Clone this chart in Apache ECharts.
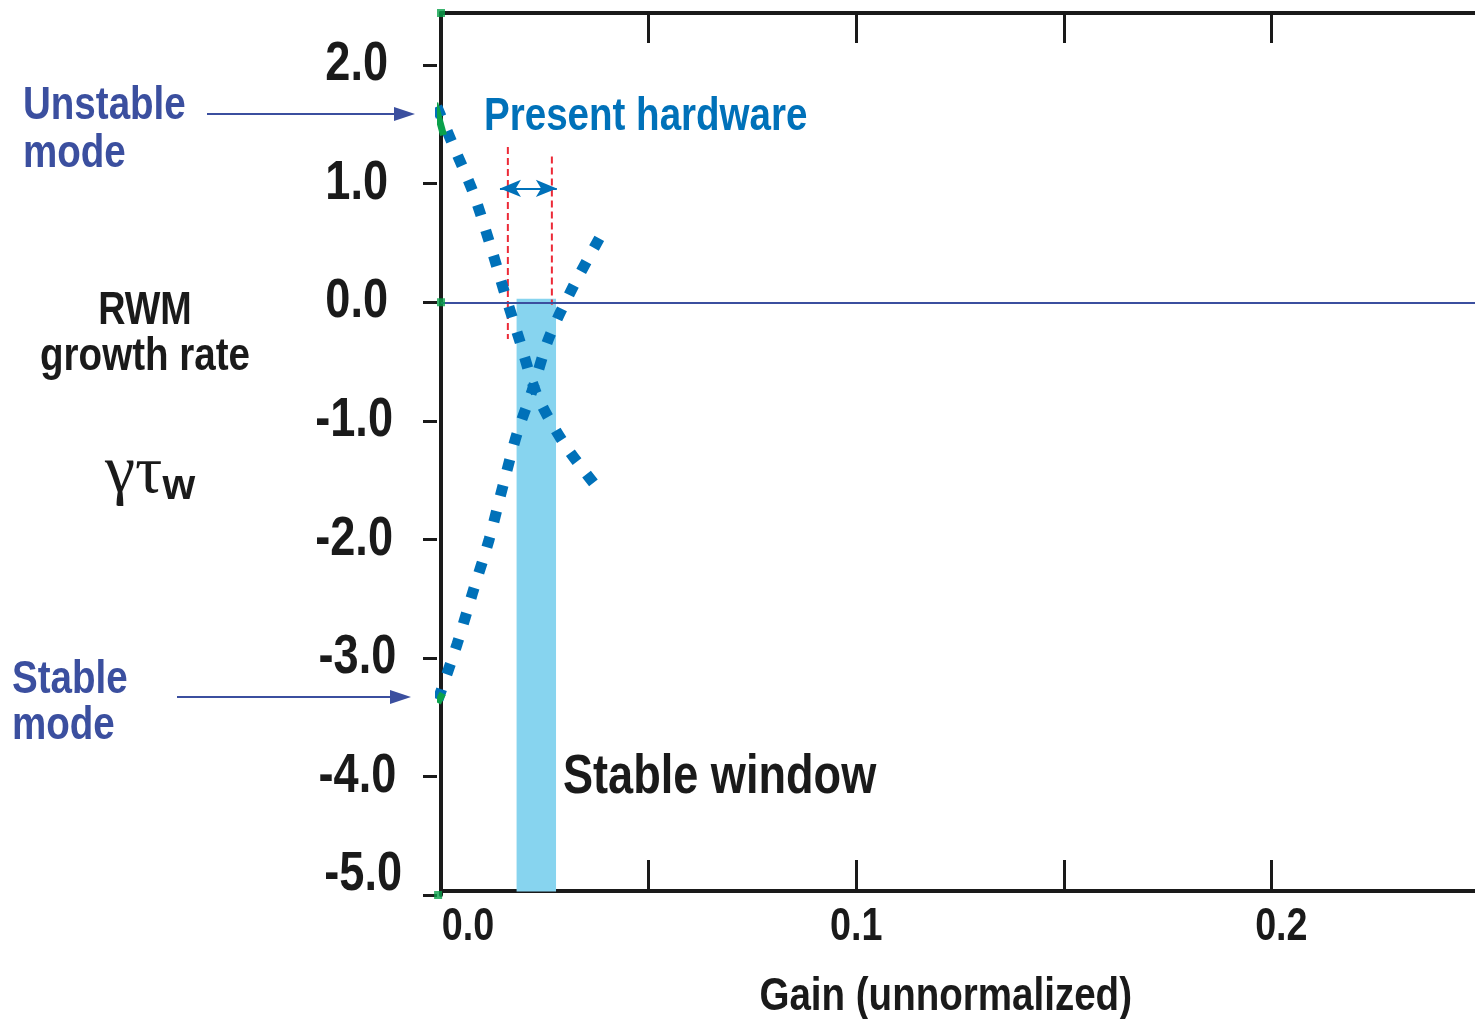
<!DOCTYPE html>
<html><head><meta charset="utf-8">
<script src="https://cdn.jsdelivr.net/npm/echarts@6/dist/echarts.min.js"></script>
<style>html,body{margin:0;padding:0;background:#fff}#c{width:1475px;height:1019px}</style>
</head><body><div id="c"></div>
<script>
// ---- data ----
const yTicks = [-5, -4, -3, -2, -1, 0, 1, 2];
const xTicks = [0, 0.05, 0.1, 0.15, 0.2];
const xLabels = [0, 0.1, 0.2];
const unstableX = [-0.0010, 0.0026, 0.0077, 0.0118, 0.0154, 0.0190, 0.0231, 0.0294, 0.0373];
const unstableY = [1.65, 1.35, 0.93, 0.49, 0.07, -0.33, -0.78, -1.18, -1.55];
const stableX = [-0.0007, 0.0039, 0.0077, 0.0116, 0.0149, 0.0183, 0.0219, 0.0260, 0.0318, 0.0383];
const stableY = [-3.35, -2.88, -2.44, -2.00, -1.55, -1.11, -0.75, -0.30, 0.13, 0.55];
const greenUnstX = [-0.0015, 0.0006];
const greenUnstY = [1.68, 1.41];
const greenStabX = [-0.0008, 0.0004];
const greenStabY = [-3.38, -3.30];
const windowX = [0.0182, 0.0277];
const windowY = [-4.97, 0.03];
const hwLeftX = 0.0161, hwLeftY = [1.31, -0.31];
const hwRightX = 0.0267, hwRightY = [1.23, -0.02];
const hwArrowY = 0.96, hwArrowX = [0.0142, 0.0279];
const cornerX = [0, 0, -0.0007];
const cornerY = [2.44, 0, -5];

const F = '"Liberation Sans Narrow","Liberation Sans",Arial,sans-serif';
const BLUE = '#0071b9', NAVY = '#3b4f9f', BLK = '#1a1a1a';
const zip = (a, b) => a.map((v, i) => [v, b[i]]);

const chart = echarts.init(document.getElementById('c'));
const dotted = { type: [11, 15.6], width: 11, color: BLUE, cap: 'butt' };
const txt = (x, y, text, size, fill, align) => ({
  type: 'text', x: x, y: y, z: 100,
  style: { text: text, font: 'bold ' + size + 'px ' + F, fill: fill, textAlign: align || 'left', textVerticalAlign: 'middle' }
});
const yl = { fontFamily: F, fontWeight: 'bold', fontSize: 55, color: BLK };
const xl = { fontFamily: F, fontWeight: 'bold', fontSize: 46, color: BLK };
chart.setOption({
  animation: false,
  grid: { left: 441, right: 0, top: 13, bottom: 124, containLabel: false, outerBoundsMode: 'none' },
  xAxis: [{
    type: 'value', min: 0, max: 0.249, position: 'bottom', offset: -4,
    axisLine: { onZero: false, lineStyle: { color: BLK, width: 4 } },
    axisTick: { inside: true, length: 31, lineStyle: { color: BLK, width: 3 }, customValues: xTicks },
    axisLabel: Object.assign({
      customValues: xLabels, margin: 13,
      formatter: v => v === 0 ? '{a|0.0}' : (v > 0.15 ? '{b|' + v.toFixed(1) + '}' : v.toFixed(1)),
      rich: { a: Object.assign({ padding: [0, 0, 0, 66] }, xl), b: Object.assign({ padding: [0, 0, 0, 24] }, xl) }
    }, xl),
    splitLine: { show: false },
    name: 'Gain (unnormalized)', nameLocation: 'middle', nameGap: 83,
    nameTextStyle: { fontFamily: F, fontWeight: 'bold', fontSize: 47, color: BLK, padding: [0, 30, 0, 0] }
  }, {
    type: 'value', min: 0, max: 0.249, position: 'top',
    axisLine: { onZero: false, lineStyle: { color: BLK, width: 4 } },
    axisTick: { inside: true, length: 30, lineStyle: { color: BLK, width: 3 }, customValues: xTicks },
    axisLabel: { show: false }, splitLine: { show: false }
  }],
  yAxis: [{
    type: 'value', min: -5, max: 2.44,
    axisLine: { show: true, onZero: false, lineStyle: { color: BLK, width: 4 } },
    axisTick: { show: false }, axisLabel: { show: false }, splitLine: { show: false }
  }, {
    type: 'value', min: -5, max: 2.44, position: 'left', offset: 4,
    axisLine: { show: false, onZero: false },
    axisTick: { show: true, length: 14, lineStyle: { color: BLK, width: 3 }, customValues: yTicks },
    axisLabel: Object.assign({
      customValues: yTicks, margin: 35,
      formatter: v => {
        const s = v.toFixed(1);
        if (v >= 0) return '{p|' + s + '}';
        if (v >= -2) return '{n|' + s + '}';
        if (v >= -4) return '{m|' + s + '}';
        return '{f|' + s + '}';
      },
      rich: {
        p: Object.assign({ padding: [0, 17, 0, 0] }, yl),
        n: Object.assign({ padding: [0, 11, 0, 0] }, yl),
        m: Object.assign({ padding: [0, 7, 0, 0] }, yl),
        f: Object.assign({ padding: [0, 0, 40, 0] }, yl)
      }
    }, yl),
    splitLine: { show: false }
  }],
  series: [
    {
      type: 'line', data: [], silent: true,
      markArea: { silent: true, itemStyle: { color: '#87d4ef', opacity: 1 },
        data: [[{ coord: [windowX[0], windowY[1]] }, { coord: [windowX[1], windowY[0]] }]] },
      markLine: { silent: true, symbol: 'none', label: { show: false },
        lineStyle: { color: NAVY, width: 2, type: 'solid' }, data: [{ yAxis: 0 }] }
    },
    { type: 'line', data: zip(hwLeftY.map(() => hwLeftX), hwLeftY), showSymbol: false, silent: true,
      lineStyle: { color: '#ec2a37', width: 2, type: [7, 4] } },
    { type: 'line', data: zip(hwRightY.map(() => hwRightX), hwRightY), showSymbol: false, silent: true,
      lineStyle: { color: '#ec2a37', width: 2, type: [7, 4] } },
    {
      type: 'line', data: [], silent: true,
      markLine: { silent: true, symbol: ['arrow', 'arrow'], symbolSize: [13, 21], label: { show: false },
        lineStyle: { color: BLUE, width: 2, type: 'solid' },
        itemStyle: { color: BLUE, borderColor: BLK, borderWidth: 1.5 },
        data: [[{ coord: [hwArrowX[0], hwArrowY] }, { coord: [hwArrowX[1], hwArrowY] }]] }
    },
    { type: 'line', data: zip(unstableX, unstableY), showSymbol: false, smooth: 0.3, clip: false, silent: true, lineStyle: dotted },
    { type: 'line', data: zip(stableX, stableY), showSymbol: false, smooth: 0.3, clip: false, silent: true, lineStyle: dotted },
    { type: 'line', data: zip(greenUnstX, greenUnstY), showSymbol: false, clip: false, silent: true, z: 5, lineStyle: { color: '#0aa14b', width: 7, cap: 'butt' } },
    { type: 'line', data: zip(greenStabX, greenStabY), showSymbol: false, clip: false, silent: true, z: 5, lineStyle: { color: '#0aa14b', width: 7, cap: 'butt' } },
    { type: 'scatter', data: zip(cornerX, cornerY), symbol: 'rect', symbolSize: 8, clip: false, silent: true, z: 5, itemStyle: { color: '#0aa14b' } }
  ],
  graphic: [
    { type: 'line', shape: { x1: 207, y1: 114, x2: 398, y2: 114 }, style: { stroke: NAVY, lineWidth: 2 } },
    { type: 'polygon', shape: { points: [[415, 114], [394, 107], [394, 121]] }, style: { fill: NAVY } },
    { type: 'line', shape: { x1: 177, y1: 697, x2: 394, y2: 697 }, style: { stroke: NAVY, lineWidth: 2 } },
    { type: 'polygon', shape: { points: [[411, 697], [390, 690], [390, 704]] }, style: { fill: NAVY } },
    txt(23, 106, 'Unstable', 47, NAVY),
    txt(23, 154, 'mode', 47, NAVY),
    txt(12, 680, 'Stable', 47, NAVY),
    txt(12, 726, 'mode', 47, NAVY),
    txt(145, 311, 'RWM', 46, BLK, 'center'),
    txt(145, 357, 'growth rate', 47, BLK, 'center'),
    { type: 'text', x: 105, y: 474, style: { text: '{g|γτ}{s|w}', fill: BLK, textVerticalAlign: 'middle',
      rich: { g: { fontFamily: '"Liberation Serif","DejaVu Serif",serif', fontSize: 68, fill: BLK },
              s: { fontFamily: F, fontWeight: 'bold', fontSize: 42, fill: BLK, padding: [26, 0, 0, 0] } } } },
    txt(484, 117, 'Present hardware', 47, BLUE),
    txt(563, 778, 'Stable window', 55, BLK)
  ]
});

// condense all bold sans texts (the reference uses a condensed face)
(function condense() {
  const zr = chart.getZr();
  const visit = el => {
    if (el.type === 'text') {
      const t = el.style && el.style.text;
      if (!(typeof t === 'string' && t.indexOf('γ') >= 0)) { el.scaleX = 0.82; el.markRedraw(); }
    }
    if (el.isGroup) el.eachChild(visit);
  };
  zr.storage.getRoots().forEach(visit);
  zr.refreshImmediately();
})();
</script></body></html>
